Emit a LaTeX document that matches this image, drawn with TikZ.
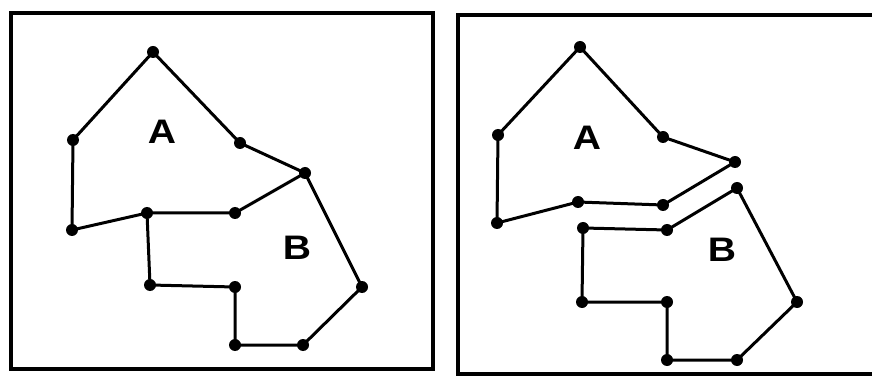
\documentclass[tikz,border=0pt]{standalone}
\usepackage{fontspec}
\setmainfont{Liberation Sans}
\begin{document}
\begin{tikzpicture}[x=1pt,y=-1pt,
  frame/.style={line width=3.5pt},
  edge/.style={line width=3pt,line join=round},
  pt/.style={circle,fill=black,inner sep=0pt,minimum size=12pt},
  lbl/.style={font=\bfseries\fontsize{34}{34}\selectfont,xscale=1.15}]
\useasboundingbox (0,0) rectangle (872,379);
\begin{scope}
\clip (0,0) rectangle (872,379);
\draw[frame] (11,13) rectangle (433,369);
\draw[frame] (458,15) rectangle (890,374);
\end{scope}
% left panel
\node[pt] (p1) at (153,52) {};
\node[pt] (p2) at (73,140) {};
\node[pt] (p3) at (72,230) {};
\node[pt] (p4) at (147,213) {};
\node[pt] (p5) at (235,213) {};
\node[pt] (p6) at (305,173) {};
\node[pt] (p7) at (240,143) {};
\node[pt] (p8) at (150,285) {};
\node[pt] (p9) at (235,287) {};
\node[pt] (p10) at (235,345) {};
\node[pt] (p11) at (303,345) {};
\node[pt] (p12) at (362,287) {};
\draw[edge] (p1.center) -- (p7.center) -- (p6.center) -- (p5.center) -- (p4.center) -- (p3.center) -- (p2.center) -- cycle;
\draw[edge] (p4.center) -- (p8.center) -- (p9.center) -- (p10.center) -- (p11.center) -- (p12.center) -- (p6.center);
\node[lbl] (la) at (162,132) {A};
\node[lbl] (lb) at (297,248) {B};
% right panel
\node[pt] (q1) at (580,47) {};
\node[pt] (q2) at (498,135) {};
\node[pt] (q3) at (497,223) {};
\node[pt] (q4) at (578,202) {};
\node[pt] (q5) at (663,205) {};
\node[pt] (q6) at (735,162) {};
\node[pt] (q7) at (663,137) {};
\draw[edge] (q1.center) -- (q7.center) -- (q6.center) -- (q5.center) -- (q4.center) -- (q3.center) -- (q2.center) -- cycle;
\node[pt] (r1) at (737,188) {};
\node[pt] (r2) at (667,230) {};
\node[pt] (r3) at (583,228) {};
\node[pt] (r4) at (582,302) {};
\node[pt] (r5) at (667,302) {};
\node[pt] (r6) at (667,360) {};
\node[pt] (r7) at (737,360) {};
\node[pt] (r8) at (797,302) {};
\draw[edge] (r1.center) -- (r2.center) -- (r3.center) -- (r4.center) -- (r5.center) -- (r6.center) -- (r7.center) -- (r8.center) -- cycle;
\node[lbl] (ra) at (587,138) {A};
\node[lbl] (rb) at (722,250) {B};
\end{tikzpicture}
\end{document}
